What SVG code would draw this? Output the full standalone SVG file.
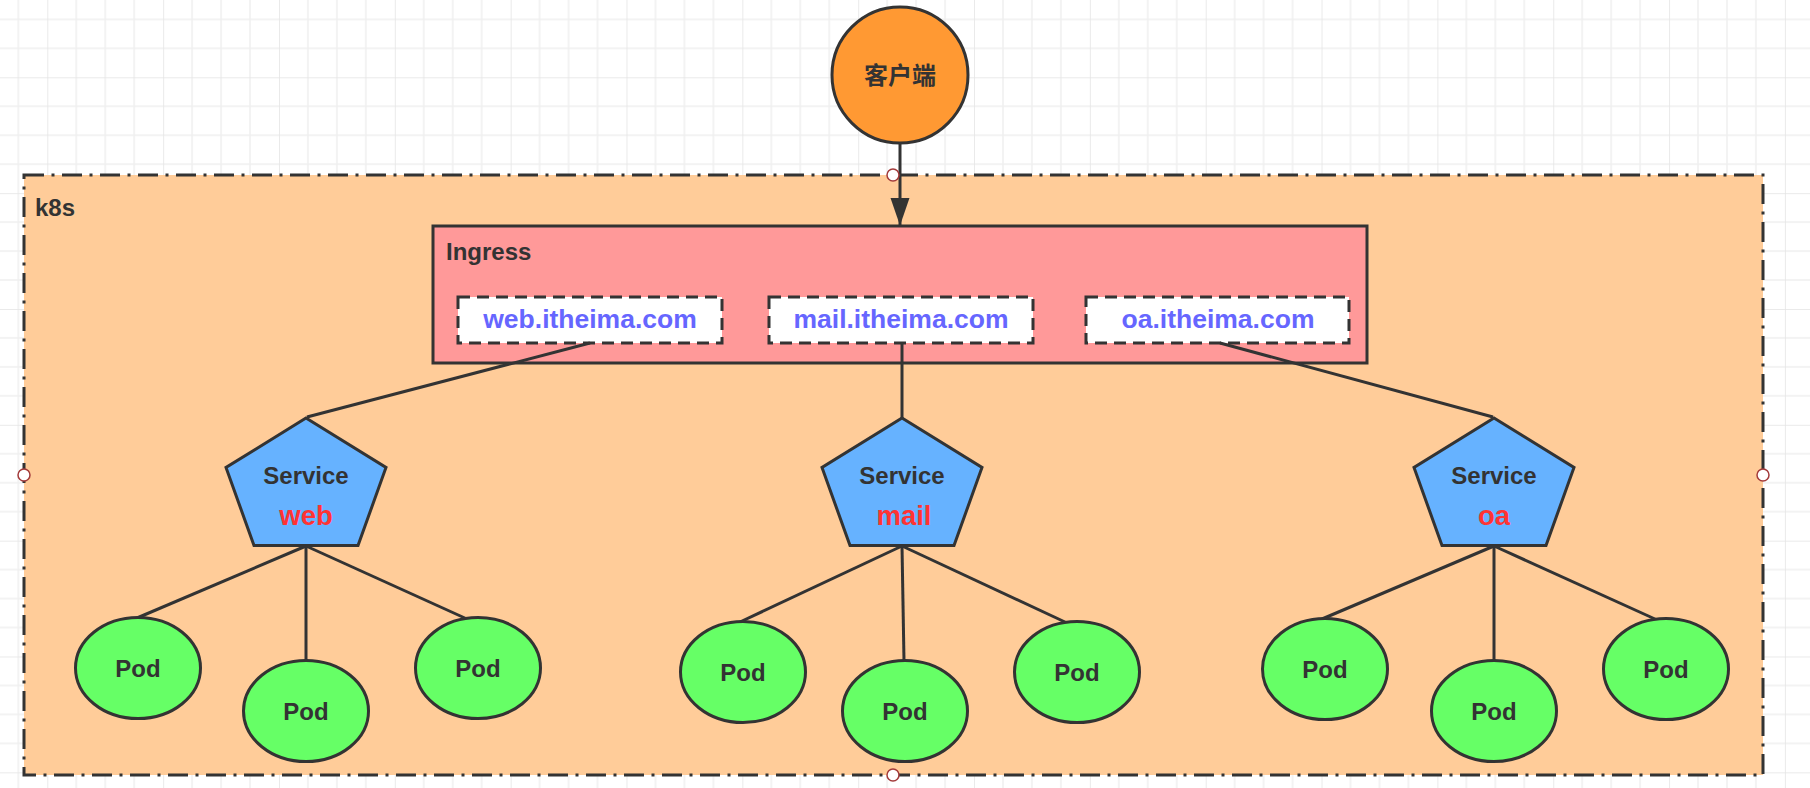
<svg xmlns="http://www.w3.org/2000/svg" width="1810" height="788" viewBox="0 0 1810 788">
<defs>
  <pattern id="grid" patternUnits="userSpaceOnUse" x="47.3" y="77.3" width="115.84" height="115.84">
    <path d="M28.96 0V115.84M57.92 0V115.84M86.88 0V115.84M0 28.96H115.84M0 57.92H115.84M0 86.88H115.84" stroke="#f0f0f0" stroke-width="1.5" fill="none"/>
    <path d="M0 0V115.84M0 0H115.84" stroke="#e4e4e4" stroke-width="1.5" fill="none"/>
  </pattern>
  <marker id="arrow" viewBox="0 0 28 20" refX="27" refY="10" markerWidth="28" markerHeight="20" markerUnits="userSpaceOnUse" orient="auto">
    <path d="M0 0.5 L27.5 10 L0 19.5 Z" fill="#333333"/>
  </marker>
  <style>
    .lbl{font-family:"Liberation Sans",Arial,"Noto Sans CJK SC",sans-serif;font-weight:bold;fill:#333333;}
    .c{text-anchor:middle;}
    .conn{stroke:#333333;stroke-width:3;fill:none;}
    .svc{fill:#66B2FF;stroke:#333333;stroke-width:3;stroke-linejoin:miter;}
    .pod{fill:#66FF66;stroke:#333333;stroke-width:3;}
    .dom{fill:#FFFFFF;stroke:#333333;stroke-width:3;stroke-dasharray:12 7;}
    .domt{fill:#6666FF;font-size:26.5px;}
    .red{fill:#FF3333;font-size:27.5px;}
    .hdl{fill:#FFFFFF;stroke:#A33A3A;stroke-width:1.5;}
  </style>
</defs>
<rect x="0" y="0" width="1810" height="788" fill="#FFFFFF"/>
<rect x="0" y="0" width="1810" height="788" fill="url(#grid)"/>

<g id="k8s">
  <rect x="24" y="175" width="1739" height="600" fill="#FFCC99" stroke="#333333" stroke-width="3" stroke-dasharray="20 7.5 3 7.5"/>
  <text class="lbl" x="35" y="216" font-size="24">k8s</text>
</g>

<g id="client">
  <circle cx="900" cy="75" r="68" fill="#FF9933" stroke="#333333" stroke-width="3"/>
  <text class="lbl c" x="900" y="84" font-size="24" font-family="'Liberation Sans','Noto Sans CJK SC',sans-serif">客户端</text>
</g>

<g id="ingress">
  <rect x="433" y="226" width="934" height="137" fill="#FF9999" stroke="#333333" stroke-width="3"/>
  <text class="lbl" x="446" y="260" font-size="24">Ingress</text>
</g>

<g id="host-web">
  <rect class="dom" x="458" y="297" width="264" height="46"/>
  <text class="lbl c domt" x="590" y="328">web.itheima.com</text>
</g>
<g id="host-mail">
  <rect class="dom" x="769" y="297" width="264" height="46"/>
  <text class="lbl c domt" x="901" y="328">mail.itheima.com</text>
</g>
<g id="host-oa">
  <rect class="dom" x="1086" y="297" width="263" height="46"/>
  <text class="lbl c domt" x="1218" y="328">oa.itheima.com</text>
</g>

<g id="connectors">
  <line class="conn" x1="900" y1="143" x2="900" y2="225" marker-end="url(#arrow)"/>
  <line class="conn" x1="590" y1="343" x2="307" y2="417"/>
  <line class="conn" x1="902" y1="343" x2="902" y2="418"/>
  <line class="conn" x1="1220" y1="343" x2="1493" y2="417"/>
  <line class="conn" x1="306" y1="546" x2="137" y2="618"/>
  <line class="conn" x1="306" y1="546" x2="306" y2="661"/>
  <line class="conn" x1="306" y1="546" x2="467" y2="619"/>
  <line class="conn" x1="902" y1="546" x2="740" y2="622"/>
  <line class="conn" x1="902" y1="546" x2="904" y2="661"/>
  <line class="conn" x1="902" y1="546" x2="1065" y2="622"/>
  <line class="conn" x1="1494" y1="546" x2="1322" y2="619"/>
  <line class="conn" x1="1494" y1="546" x2="1494" y2="661"/>
  <line class="conn" x1="1494" y1="546" x2="1655" y2="619"/>
</g>

<g id="service-web">
  <polygon class="svc" points="306,418 386,467.5 358,545.5 254,545.5 226,467.5"/>
  <text class="lbl c" x="306" y="484" font-size="24">Service</text>
  <text class="lbl c red" x="306" y="525">web</text>
</g>
<g id="service-mail">
  <polygon class="svc" points="902,418 982,467.5 954,545.5 850,545.5 822,467.5"/>
  <text class="lbl c" x="902" y="484" font-size="24">Service</text>
  <text class="lbl c red" x="904" y="525">mail</text>
</g>
<g id="service-oa">
  <polygon class="svc" points="1494,418 1574,467.5 1546,545.5 1442,545.5 1414,467.5"/>
  <text class="lbl c" x="1494" y="484" font-size="24">Service</text>
  <text class="lbl c red" x="1494" y="525">oa</text>
</g>

<g id="pod-web-1"><ellipse class="pod" cx="138" cy="668" rx="62.5" ry="50.5"/><text class="lbl c" x="138" y="677" font-size="24">Pod</text></g>
<g id="pod-web-2"><ellipse class="pod" cx="306" cy="711" rx="62.5" ry="50.5"/><text class="lbl c" x="306" y="720" font-size="24">Pod</text></g>
<g id="pod-web-3"><ellipse class="pod" cx="478" cy="668" rx="62.5" ry="50.5"/><text class="lbl c" x="478" y="677" font-size="24">Pod</text></g>
<g id="pod-mail-1"><ellipse class="pod" cx="743" cy="672" rx="62.5" ry="50.5"/><text class="lbl c" x="743" y="681" font-size="24">Pod</text></g>
<g id="pod-mail-2"><ellipse class="pod" cx="905" cy="711" rx="62.5" ry="50.5"/><text class="lbl c" x="905" y="720" font-size="24">Pod</text></g>
<g id="pod-mail-3"><ellipse class="pod" cx="1077" cy="672" rx="62.5" ry="50.5"/><text class="lbl c" x="1077" y="681" font-size="24">Pod</text></g>
<g id="pod-oa-1"><ellipse class="pod" cx="1325" cy="669" rx="62.5" ry="50.5"/><text class="lbl c" x="1325" y="678" font-size="24">Pod</text></g>
<g id="pod-oa-2"><ellipse class="pod" cx="1494" cy="711" rx="62.5" ry="50.5"/><text class="lbl c" x="1494" y="720" font-size="24">Pod</text></g>
<g id="pod-oa-3"><ellipse class="pod" cx="1666" cy="669" rx="62.5" ry="50.5"/><text class="lbl c" x="1666" y="678" font-size="24">Pod</text></g>

<g id="handles">
  <circle class="hdl" cx="893" cy="175" r="6"/>
  <circle class="hdl" cx="893" cy="775" r="6"/>
  <circle class="hdl" cx="24" cy="475" r="6"/>
  <circle class="hdl" cx="1763" cy="475" r="6"/>
</g>
</svg>
